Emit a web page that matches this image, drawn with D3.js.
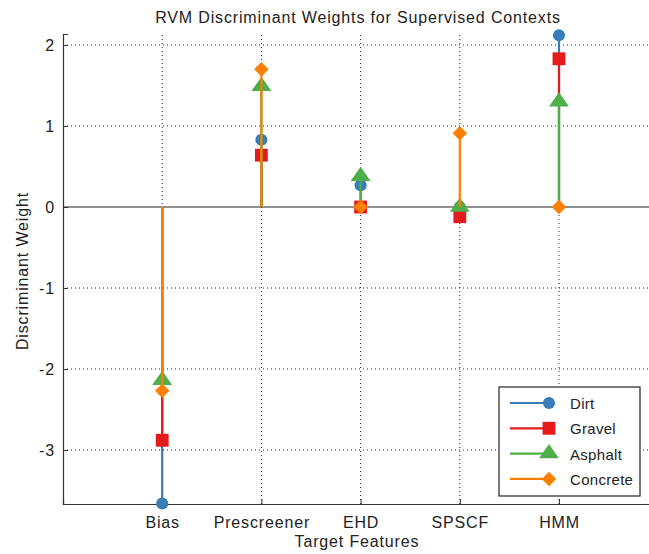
<!DOCTYPE html>
<html>
<head>
<meta charset="utf-8">
<script src="https://cdn.jsdelivr.net/npm/d3@7"></script>
<style>
  body { margin: 0; background: #fff; }
  text { font-family: "Liberation Sans", Arial, sans-serif; fill: #222; letter-spacing: 0.85px; }
</style>
</head>
<body>
<svg id="chart"></svg>
<script>
const width = 649
const height = 554

// data
const features = ["Bias", "Prescreener", "EHD", "SPSCF", "HMM"]
const contexts = ["Dirt", "Gravel", "Asphalt", "Concrete"]
const dirt = [-3.66, 0.83, 0.27, 0.0, 2.12]
const gravel = [-2.88, 0.64, 0.0, -0.12, 1.83]
const asphalt = [-2.14, 1.49, 0.38, 0.0, 1.30]
const concrete = [-2.27, 1.70, 0.0, 0.91, 0.0]
const yTicks = [-3, -2, -1, 0, 1, 2]

const colors = ["#377eb8", "#e41a1c", "#4daf4a", "#ff7f00"]
// diamond = square turned 45 degrees
const shapes = [d3.symbolCircle, d3.symbolSquare, d3.symbolTriangle, d3.symbolSquare]
const sizes = [115, 165, 130, 105]
const tweak = ["", "", " scale(1.15,0.95)", " rotate(45)"]
const series = [dirt, gravel, asphalt, concrete]

const margin = { top: 34, left: 63, bottom: 50 }

const x = d3.scaleLinear().domain([0, 6]).range([margin.left, margin.left + 6 * 99.2])
const y = d3.scaleLinear().domain([-3.667, 2.136]).range([height - margin.bottom, margin.top])

const svg = d3.select("#chart").attr("width", width).attr("height", height)

const plotRight = x(6)

// grid
const grid = svg.append("g")
grid.selectAll("line.hgrid")
  .data(yTicks.filter((t) => t !== 0))
  .join("line")
  .attr("x1", x(0)).attr("x2", plotRight)
  .attr("y1", (d) => y(d)).attr("y2", (d) => y(d))
  .attr("stroke", "#222").attr("stroke-width", 1)
  .attr("stroke-dasharray", "1,3")
grid.selectAll("line.vgrid")
  .data(features.map((f, i) => i + 1))
  .join("line")
  .attr("x1", (d) => x(d)).attr("x2", (d) => x(d))
  .attr("y1", y.range()[0]).attr("y2", y.range()[1])
  .attr("stroke", "#222").attr("stroke-width", 1)
  .attr("stroke-dasharray", "1,3")

// zero baseline
svg.append("line")
  .attr("x1", x(0)).attr("x2", plotRight)
  .attr("y1", y(0)).attr("y2", y(0))
  .attr("stroke", "#222").attr("stroke-width", 1.2)

// axes
const yAxis = d3.axisLeft(y).tickValues(yTicks).tickSize(-5).tickPadding(8).tickFormat((d) => String(d))
const gy = svg.append("g").attr("transform", `translate(${x(0)},0)`).call(yAxis)
gy.select(".domain").attr("stroke", "#333").attr("stroke-width", 1.2)
gy.selectAll(".tick line").attr("stroke", "#333")
gy.selectAll(".tick text").style("font-size", "16px").attr("fill", "#222")

const xAxis = d3.axisBottom(x).tickValues([1, 2, 3, 4, 5]).tickSize(-5).tickPadding(12.5)
  .tickFormat((d) => features[d - 1])
const gx = svg.append("g").attr("transform", `translate(0,${y.range()[0]})`).call(xAxis)
gx.select(".domain").attr("stroke", "#333").attr("stroke-width", 1.2)
gx.selectAll(".tick line").attr("stroke", "#333")
gx.selectAll(".tick text").style("font-size", "16px").attr("fill", "#222")

// stems
series.forEach(function (vals, s) {
  const g = svg.append("g")
  g.selectAll("line")
    .data(vals)
    .join("line")
    .attr("x1", (d, i) => x(i + 1)).attr("x2", (d, i) => x(i + 1))
    .attr("y1", y(0)).attr("y2", (d) => y(d))
    .attr("stroke", colors[s]).attr("stroke-width", 2.2)
  g.selectAll("path")
    .data(vals)
    .join("path")
    .attr("d", d3.symbol(shapes[s], sizes[s]))
    .attr("transform", (d, i) => `translate(${x(i + 1)},${y(d)})` + tweak[s])
    .attr("fill", colors[s])
})

// title and labels
svg.append("text")
  .attr("x", 358).attr("y", 23)
  .attr("text-anchor", "middle")
  .style("font-size", "16px")
  .text("RVM Discriminant Weights for Supervised Contexts")

svg.append("text")
  .attr("x", 357).attr("y", 547)
  .attr("text-anchor", "middle")
  .style("font-size", "16px")
  .text("Target Features")

svg.append("text")
  .attr("transform", "translate(28,271) rotate(-90)")
  .attr("text-anchor", "middle")
  .style("font-size", "16px")
  .text("Discriminant Weight")

// legend
const legend = svg.append("g").attr("transform", "translate(499,387)")
legend.append("rect")
  .attr("width", 141).attr("height", 109)
  .attr("fill", "#fff").attr("stroke", "#222").attr("stroke-width", 1.2)
const items = legend.selectAll("g.item")
  .data(contexts)
  .join("g")
  .attr("class", "item")
  .attr("transform", (d, i) => `translate(0,${16 + i * 25.3})`)
items.append("line")
  .attr("x1", 11).attr("x2", 50)
  .attr("stroke", (d, i) => colors[i]).attr("stroke-width", 2.2)
items.append("path")
  .attr("d", (d, i) => d3.symbol(shapes[i], sizes[i])())
  .attr("transform", (d, i) => `translate(50,0)` + tweak[i])
  .attr("fill", (d, i) => colors[i])
items.append("text")
  .attr("x", 71).attr("y", 6)
  .style("font-size", "15px")
  .style("letter-spacing", "0.3px")
  .text((d) => d)
</script>
</body>
</html>
